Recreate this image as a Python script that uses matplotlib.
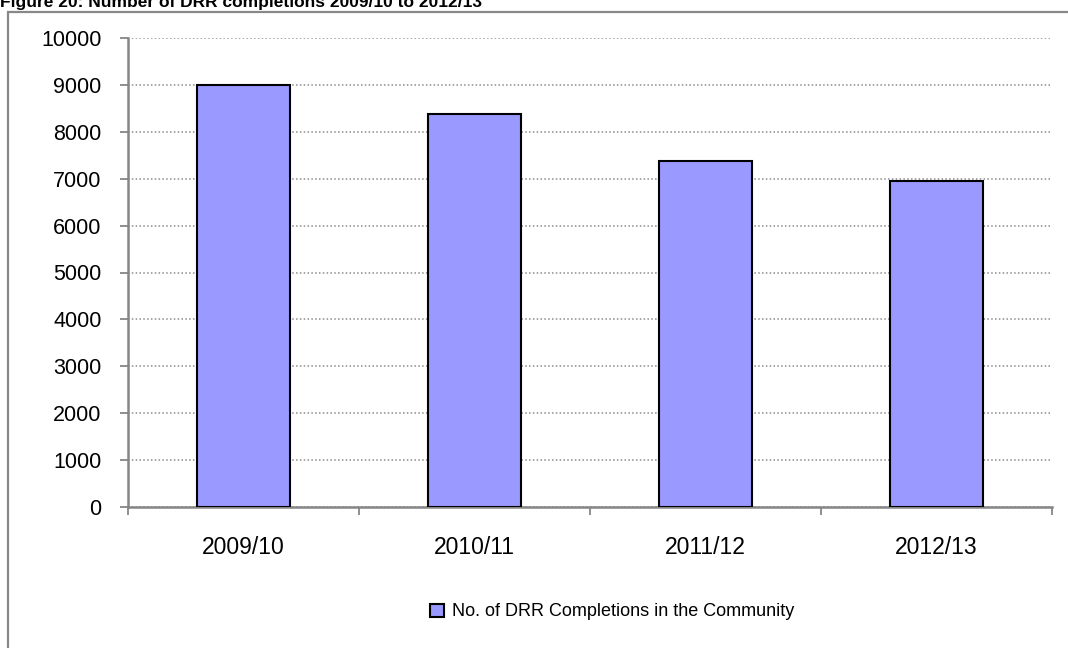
import matplotlib
matplotlib.use("Agg")
import matplotlib.pyplot as plt
from matplotlib.patches import Rectangle
import numpy as np

# Data
years = ["2009/10", "2010/11", "2011/12", "2012/13"]
completions = [9000, 8380, 7380, 6950]
series_name = "No. of DRR Completions in the Community"
title = "Figure 20: Number of DRR completions 2009/10 to 2012/13"

FONT = ["Liberation Sans", "DejaVu Sans"]
BAR_COLOR = "#9999FF"
AXIS_GREY = "#868686"

W, H = 1068, 648
fig = plt.figure(figsize=(W / 100, H / 100), dpi=100)

# chart frame (left and top edges visible)
frame = Rectangle((8 / W, -0.05), 1.2, 1 - 12 / H + 0.05, transform=fig.transFigure,
                  fill=False, edgecolor="#888888", linewidth=1.6, zorder=0)
fig.patches.append(frame)

# title
fig.text(0.0, 1 - 7 / H, title, family=FONT,
         fontweight="bold", fontsize=12.5, ha="left", va="baseline")

ax = fig.add_axes([128 / W, 1 - 507 / H, (1052 - 128) / W, (507 - 38) / H])

x = np.arange(len(years))
ax.bar(x, completions, width=0.4, color=BAR_COLOR, edgecolor="black", linewidth=1.5,
       zorder=3, label=series_name)

ax.set_xlim(-0.5, len(years) - 0.5)
ax.set_ylim(0, 10000)
ax.set_yticks(np.arange(0, 10001, 1000))
ax.yaxis.grid(True, color="#8c8c8c", linestyle=(0, (1, 1.5)), linewidth=1.1, zorder=1)
ax.set_axisbelow(True)

# category boundaries carry the tick marks, centres carry the labels
ax.set_xticks(np.arange(-0.5, len(years), 1.0))
ax.set_xticklabels([])
ax.set_xticks(x, minor=True)
ax.set_xticklabels(years, minor=True, family=FONT, fontsize=16.5)
ax.tick_params(axis="x", which="major", direction="out", length=6, width=1.3, color=AXIS_GREY)
ax.tick_params(axis="x", which="minor", length=0, pad=21)
ax.tick_params(axis="y", direction="out", length=6, width=1.3, color=AXIS_GREY, pad=13)
for lbl in ax.get_yticklabels():
    lbl.set_family(FONT)
    lbl.set_fontsize(15.5)

for side in ("top", "right"):
    ax.spines[side].set_visible(False)
for side in ("left", "bottom"):
    ax.spines[side].set_color(AXIS_GREY)
    ax.spines[side].set_linewidth(1.8)

leg = fig.legend(loc="center", bbox_to_anchor=(612 / W, 1 - 612 / H), frameon=False,
                 prop={"family": FONT, "size": 13}, handlelength=0.75, handleheight=0.75,
                 handletextpad=0.45)

fig.savefig("out.png", dpi=100)
